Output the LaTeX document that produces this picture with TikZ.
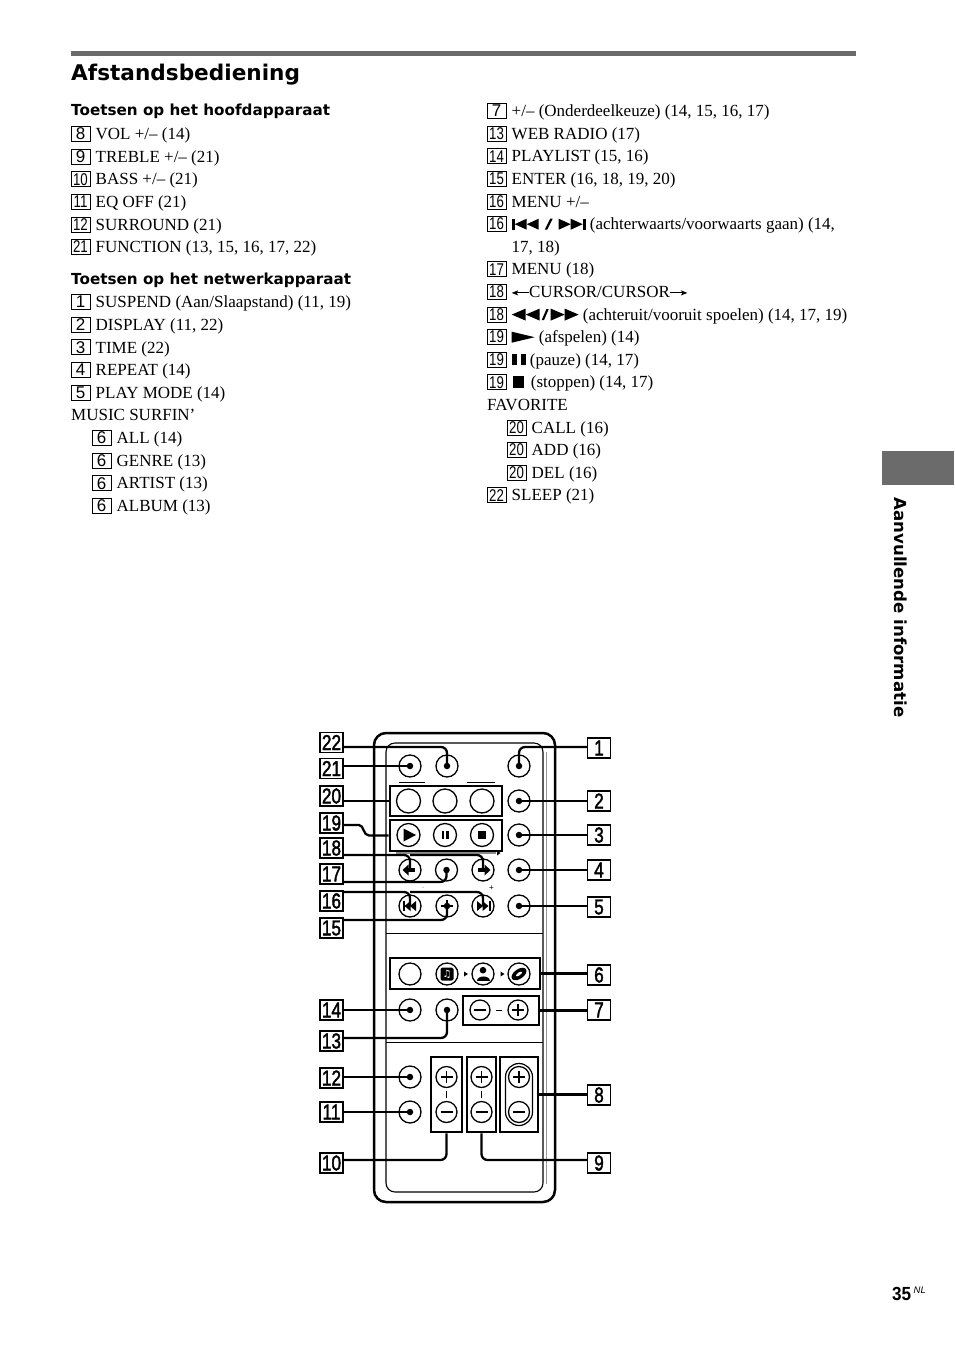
\documentclass[tikz,border=0pt]{standalone}
\usepackage{fontspec}
\setmainfont{Liberation Serif}
\setsansfont{Liberation Sans}
\newfontfamily\hfont{DejaVu Sans}
\newfontfamily\lblfont[FakeBold=2]{Liberation Sans}
\usepackage{graphicx}
\definecolor{rulegray}{gray}{0.42}
\newcommand\tw[1]{\scalebox{0.78}[1]{#1}}
\newcommand\sq[1]{\scalebox{0.8}[1]{#1}}
\newcommand\itm[5]{%
  \node[numbox] (#1b) at ({#2+9.5},{#3}) {#4};
  \node[body] (#1t) at ({#2+24.5},{#3+5.7}) {#5};}
\newcommand\icPN{\tikz[x=1pt,y=1pt,baseline=0pt]{%
  \fill (0,0) rectangle (3,11);
  \fill (3,5.5) -- (15,11) -- (15,0) -- cycle;
  \fill (15,5.5) -- (27,11) -- (27,0) -- cycle;
  \fill (33,0) -- (35.5,0) -- (41,11) -- (38.5,11) -- cycle;
  \fill (47,0) -- (59,5.5) -- (47,11) -- cycle;
  \fill (59,0) -- (71,5.5) -- (59,11) -- cycle;
  \fill (71,0) rectangle (74,11);}}
\newcommand\icRF{\tikz[x=1pt,y=1pt,baseline=0pt]{%
  \fill (0,5.5) -- (14,11.5) -- (14,-0.5) -- cycle;
  \fill (14,5.5) -- (28,11.5) -- (28,-0.5) -- cycle;
  \fill (30,0) -- (32.3,0) -- (37,11) -- (34.7,11) -- cycle;
  \fill (39,-0.5) -- (53,5.5) -- (39,11.5) -- cycle;
  \fill (53,-0.5) -- (67,5.5) -- (53,11.5) -- cycle;}}
\newcommand\icPlay{\tikz[x=1pt,y=1pt,baseline=0pt]{\fill (0,0) -- (23,5.5) -- (0,11) -- cycle;}}
\newcommand\icPause{\tikz[x=1pt,y=1pt,baseline=0pt]{\fill (1,0) rectangle (6,11); \fill (10,0) rectangle (15,11);}}
\newcommand\icStop{\tikz[x=1pt,y=1pt,baseline=0pt]{\fill (1,0) rectangle (12.5,11.5); \path (0,0) -- (15,0);}}
\newcommand\icLarr{\tikz[x=1pt,y=1pt,baseline=0pt]{\draw[line width=0.9pt] (3,4.6) -- (17,4.6); \fill (0,4.6) -- (6.5,7.2) -- (5,4.6) -- (6.5,2) -- cycle;}}
\newcommand\icRarr{\tikz[x=1pt,y=1pt,baseline=0pt]{\draw[line width=0.9pt] (0,4.6) -- (14,4.6); \fill (17,4.6) -- (10.5,7.2) -- (12,4.6) -- (10.5,2) -- cycle;}}
\newcommand\pmminus[1]{\draw[pm] ([xshift=-6pt]#1.center) -- ([xshift=6pt]#1.center);}
\newcommand\pmplus[1]{\pmminus{#1}\draw[pm] ([yshift=-6pt]#1.center) -- ([yshift=6pt]#1.center);}
\begin{document}
\begin{tikzpicture}[x=1pt,y=-1pt,
  body/.style={font=\fontsize{17}{20}\selectfont, inner sep=0, anchor=base west},
  numbox/.style={draw, line width=0.8pt, minimum width=19pt, minimum height=15pt, inner sep=0, font=\sffamily\fontsize{17}{17}\selectfont},
  head/.style={font=\hfont\bfseries\fontsize{15.2}{18}\selectfont, inner sep=0, anchor=base west},
  lbl/.style={draw, line width=1.2pt, minimum width=23pt, minimum height=20pt, inner sep=0, font=\lblfont\fontsize{21.5}{22}\selectfont},
  btn/.style={draw, circle, line width=1.3pt, minimum size=22pt, inner sep=0},
  grp/.style={draw, line width=2.8pt, inner sep=0},
  conn/.style={line width=2.3pt, rounded corners=6pt},
  dotc/.style={fill, circle, inner sep=0, minimum size=6.5pt},
  pm/.style={line width=1.2pt}]
\useasboundingbox (0,0) rectangle (954,1352);
\fill[white] (0,0) rectangle (954,1352);

% ---------- header ----------
\fill[rulegray] (71,51) rectangle (856,55.5);
\node[anchor=base west, inner sep=0, font=\hfont\bfseries\fontsize{21.6}{24}\selectfont] (title) at (71,80) {Afstandsbediening};
\node[head] (h1) at (71,115.5) {Toetsen op het hoofdapparaat};
\itm{a1}{71}{134}{8}{VOL +/– (14)}
\itm{a2}{71}{156.6}{9}{TREBLE +/– (21)}
\itm{a3}{71}{179.2}{\tw{10}}{BASS +/– (21)}
\itm{a4}{71}{201.8}{\tw{11}}{EQ OFF (21)}
\itm{a5}{71}{224.4}{\tw{12}}{SURROUND (21)}
\itm{a6}{71}{247}{\tw{21}}{FUNCTION (13, 15, 16, 17, 22)}
\node[head] (h2) at (71,284.5) {Toetsen op het netwerkapparaat};
\itm{n1}{71}{302}{1}{SUSPEND (Aan/Slaapstand) (11, 19)}
\itm{n2}{71}{324.65}{2}{DISPLAY (11, 22)}
\itm{n3}{71}{347.3}{3}{TIME (22)}
\itm{n4}{71}{369.95}{4}{REPEAT (14)}
\itm{n5}{71}{392.6}{5}{PLAY MODE (14)}
\node[body] (ms) at (71,420.95) {MUSIC SURFIN’};
\itm{n6}{92}{437.9}{6}{ALL (14)}
\itm{n7}{92}{460.55}{6}{GENRE (13)}
\itm{n8}{92}{483.2}{6}{ARTIST (13)}
\itm{n9}{92}{505.85}{6}{ALBUM (13)}

\itm{r1}{487}{111}{7}{+/– (Onderdeelkeuze) (14, 15, 16, 17)}
\itm{r2}{487}{133.6}{\tw{13}}{WEB RADIO (17)}
\itm{r3}{487}{156.2}{\tw{14}}{PLAYLIST (15, 16)}
\itm{r4}{487}{178.8}{\tw{15}}{ENTER (16, 18, 19, 20)}
\itm{r5}{487}{201.4}{\tw{16}}{MENU +/–}
\itm{r6}{487}{224}{\tw{16}}{\icPN\ (achterwaarts/voorwaarts gaan) (14,}
\node[body] (r7t) at (511.5,252.3) {17, 18)};
\itm{r8}{487}{269.2}{\tw{17}}{MENU (18)}
\itm{r9}{487}{291.8}{\tw{18}}{\icLarr CURSOR/CURSOR\icRarr}
\itm{r10}{487}{314.4}{\tw{18}}{\icRF\ (achteruit/vooruit spoelen) (14, 17, 19)}
\itm{r11}{487}{337}{\tw{19}}{\icPlay\ (afspelen) (14)}
\itm{r12}{487}{359.6}{\tw{19}}{\icPause\ (pauze) (14, 17)}
\itm{r13}{487}{382.2}{\tw{19}}{\icStop\ (stoppen) (14, 17)}
\node[body] (fav) at (487,410.5) {FAVORITE};
\itm{r15}{507}{427.4}{\tw{20}}{CALL (16)}
\itm{r16}{507}{450}{\tw{20}}{ADD (16)}
\itm{r17}{507}{472.6}{\tw{20}}{DEL (16)}
\itm{r18}{487}{495.2}{\tw{22}}{SLEEP (21)}

% side tab
\fill[rulegray] (882,451) rectangle (954,485);
\node[rotate=-90, inner sep=0, font=\hfont\bfseries\fontsize{16.6}{18}\selectfont] (tab) at (901,607.5) {Aanvullende informatie};

% page number
\node[anchor=base west, inner sep=0, font=\sffamily\bfseries\fontsize{19}{19}\selectfont] (pg) at (892,1300) {\scalebox{0.9}[1]{35}};
\node[anchor=base west, inner sep=0, font=\sffamily\itshape\fontsize{9.5}{10}\selectfont] (pgnl) at (913.5,1293) {NL};

% ---------- remote body ----------
\draw[line width=2.5pt, rounded corners=12pt] (374,733) rectangle (555,1202);
\draw[line width=1.1pt, rounded corners=9pt] (386,743) rectangle (543,1192);
\draw[line width=0.6pt, black!40] (546,752) -- (546,1184);
\draw[line width=1pt] (386,933) -- (543,933);
\draw[line width=1pt] (386,1042) -- (543,1042);

% group boxes
\node[grp, minimum width=112pt, minimum height=30pt] (g20) at (446,801) {};
\node[grp, minimum width=112pt, minimum height=31pt] (g19) at (446,835.5) {};
\node[grp, minimum width=150pt, minimum height=31pt] (g6) at (465,973.5) {};
\node[grp, minimum width=76pt, minimum height=29pt] (g7) at (501,1010.5) {};
\node[grp, minimum width=31pt, minimum height=75pt] (g10) at (446.5,1094.5) {};
\node[grp, minimum width=29pt, minimum height=75pt] (g9) at (481.5,1094.5) {};
\node[grp, minimum width=38pt, minimum height=75pt] (g8) at (519,1094.5) {};

% bars above favourite buttons, shift bar under transport buttons
\draw[line width=1.6pt] (399,782.5) -- (425,782.5);
\draw[line width=1.6pt] (467,782.5) -- (495,782.5);
\draw[line width=2pt, black!45] (396,853) -- (496,853);
\fill (497,850.5) -- (500.5,853) -- (497,855.5) -- cycle;
\node[inner sep=0, font=\sffamily\fontsize{8}{8}\selectfont] (plusmk) at (491.5,888.5) {+};
\node[inner sep=0, font=\sffamily\fontsize{6}{6}\selectfont, black!50] (minmk) at (423,889) {-};

% buttons
\node[btn] (b21) at (410,766) {};
\node[btn] (b22) at (447,766) {};
\node[btn] (b1) at (519,766) {};
\node[btn, minimum size=24pt] (f1) at (408.5,801) {};
\node[btn, minimum size=24pt] (f2) at (445,801) {};
\node[btn, minimum size=24pt] (f3) at (482,801) {};
\node[btn] (b2) at (519,801) {};
\node[btn, minimum size=23pt] (p1) at (408.5,835) {};
\node[btn, minimum size=23pt] (p2) at (445,835) {};
\node[btn, minimum size=23pt] (p3) at (482,835) {};
\node[btn] (b3) at (519,835) {};
\node[btn] (b18l) at (410,870) {};
\node[btn] (b17) at (446.5,870) {};
\node[btn] (b18r) at (483,870) {};
\node[btn] (b4) at (519,870) {};
\node[btn] (b16l) at (410,906) {};
\node[btn] (b15) at (447,906) {};
\node[btn] (b16r) at (483,906) {};
\node[btn] (b5) at (519,906) {};
\node[btn] (m1) at (410,974) {};
\node[btn] (m2) at (447,974) {};
\node[btn] (m3) at (483,974) {};
\node[btn] (m4) at (519,974) {};
\node[btn] (b14) at (410,1010) {};
\node[btn] (b13) at (447,1010) {};
\node[btn, minimum size=20pt] (s1) at (480,1010) {};
\node[btn, minimum size=20pt] (s2) at (518,1010) {};
\node[btn] (b12) at (410,1077) {};
\node[btn] (b11) at (410,1112) {};
\node[btn, minimum size=21pt] (t10p) at (446.5,1077) {};
\node[btn, minimum size=21pt] (t10m) at (446.5,1112) {};
\node[btn, minimum size=21pt] (t9p) at (481.5,1077) {};
\node[btn, minimum size=21pt] (t9m) at (481.5,1112) {};
\node[btn, minimum size=21pt] (v8p) at (519,1077) {};
\node[btn, minimum size=21pt] (v8m) at (519,1112) {};
\draw[line width=1.2pt, rounded corners=13.5pt] (505.5,1063.5) rectangle (532.5,1125.5);

% labels
\node[lbl] (l22) at (331.5,742.5) {\sq{22}};
\node[lbl] (l21) at (331.5,768.5) {\sq{21}};
\node[lbl] (l20) at (331.5,796) {\sq{20}};
\node[lbl] (l19) at (331.5,823) {\sq{19}};
\node[lbl] (l18) at (331.5,848) {\sq{18}};
\node[lbl] (l17) at (331.5,874) {\sq{17}};
\node[lbl] (l16) at (331.5,901) {\sq{16}};
\node[lbl] (l15) at (331.5,928) {\sq{15}};
\node[lbl] (l14) at (331.5,1010) {\sq{14}};
\node[lbl] (l13) at (331.5,1041) {\sq{13}};
\node[lbl] (l12) at (331.5,1078) {\sq{12}};
\node[lbl] (l11) at (331.5,1112) {\sq{11}};
\node[lbl] (l10) at (331.5,1163) {\sq{10}};
\node[lbl] (l1) at (599,748) {\sq{1}};
\node[lbl] (l2) at (599,801) {\sq{2}};
\node[lbl] (l3) at (599,835) {\sq{3}};
\node[lbl] (l4) at (599,870) {\sq{4}};
\node[lbl] (l5) at (599,907) {\sq{5}};
\node[lbl] (l6) at (599,975) {\sq{6}};
\node[lbl] (l7) at (599,1010) {\sq{7}};
\node[lbl] (l8) at (599,1095) {\sq{8}};
\node[lbl] (l9) at (599,1163) {\sq{9}};

% connectors
\draw[conn] (l22.east |- 0,747) -| (b22.center);
\draw[conn] (l21.east |- b21) -- (b21.center);
\draw[conn] (l20.east |- g20) -- (g20.west);
\draw[conn] (l19.east |- 0,825) -- (353,825) .. controls (364,825) and (363,835.5) .. (375,835.5) -- (g19.west);
\draw[conn] (l18.east |- 0,855) -| (b18l.center);
\draw[conn] (b18l.center |- 0,855) -| (b18r.center);
\draw[conn] (l17.east |- 0,882) -| (b17.center);
\draw[conn] (l16.east |- 0,892) -| (b16l.center);
\draw[conn] (b16l.center |- 0,892) -| (b16r.center);
\draw[conn] (l15.east |- 0,920) -| (b15.center);
\draw[conn] (l14.east) -- (b14.center);
\draw[conn] (l13.east |- 0,1038) -| (b13.center);
\draw[conn] (l12.east |- b12) -- (b12.center);
\draw[conn] (l11.east) -- (b11.center);
\draw[conn] (g10.south) |- (l10.east |- 0,1160);
\draw[conn] (l1.west |- 0,747) -| (b1.center);
\draw[conn] (b2.center) -- (l2.west);
\draw[conn] (b3.center) -- (l3.west);
\draw[conn] (b4.center) -- (l4.west);
\draw[conn] (b5.center) -- (l5.west |- b5);
\draw[conn] (g6.east) -- (l6.west |- g6.east);
\draw[conn] (g7.east) -- (l7.west |- g7.east);
\draw[conn] (g8.east) -- (l8.west |- g8.east);
\draw[conn] (g9.south) |- (l9.west |- 0,1160);

% dots
\foreach \b in {b22,b21,b1,b2,b3,b4,b5,b17,b15,b14,b13,b12,b11}
  \node[dotc] (d\b) at (\b) {};

% icons
\begin{scope}[shift={(p1)}] \fill (-5,-6.5) -- (7.5,0) -- (-5,6.5) -- cycle; \end{scope}
\begin{scope}[shift={(p2)}] \fill (-3.5,-4) rectangle (-1,4); \fill (1,-4) rectangle (3.5,4); \end{scope}
\begin{scope}[shift={(p3)}] \fill (-4,-4) rectangle (4,4); \end{scope}
\begin{scope}[shift={(b18l)}] \fill (-7.5,0) -- (-1.5,-5.5) -- (-1.5,5.5) -- cycle; \fill (-2,-2.2) rectangle (5,2.2); \end{scope}
\begin{scope}[shift={(b18r)}] \fill (7.5,0) -- (1.5,-5.5) -- (1.5,5.5) -- cycle; \fill (2,-2.2) rectangle (-5,2.2); \end{scope}
\begin{scope}[shift={(b16l)}] \fill (-7.5,-5) rectangle (-5.5,5); \fill (-5.5,0) -- (0.5,-5) -- (0.5,5) -- cycle; \fill (0,0) -- (6,-5) -- (6,5) -- cycle; \end{scope}
\begin{scope}[shift={(b16r)}] \fill (7.5,-5) rectangle (5.5,5); \fill (5.5,0) -- (-0.5,-5) -- (-0.5,5) -- cycle; \fill (0,0) -- (-6,-5) -- (-6,5) -- cycle; \end{scope}
\begin{scope}[shift={(b15)}] \draw[line width=1.3pt] (-6,0) -- (6,0) (0,-6) -- (0,6); \end{scope}
\begin{scope}[shift={(m2)}] \fill[rounded corners=1.5pt] (-6.5,-6.5) rectangle (6.5,6.5); \end{scope}
\node[text=white, inner sep=0, font=\hfont\fontsize{10}{10}\selectfont] (m2n) at (m2) {♫};
\begin{scope}[shift={(m3)}] \fill (0,-3.8) circle (3.3); \fill (-6.5,6.5) .. controls (-6.5,0.5) and (6.5,0.5) .. (6.5,6.5) -- cycle; \end{scope}
\begin{scope}[shift={(m4)}] \fill[rotate=35] (0,0) ellipse (8.5 and 4.8); \fill[white, rotate=35] (0,0) ellipse (3.6 and 1.4); \end{scope}
\fill (464,971.5) -- (468,974) -- (464,976.5) -- cycle;
\fill (500.5,971.5) -- (504.5,974) -- (500.5,976.5) -- cycle;
\pmminus{s1}
\pmplus{s2}
\draw[line width=1pt] (495.5,1010) -- (501.5,1010);
\pmplus{t10p}
\pmminus{t10m}
\pmplus{t9p}
\pmminus{t9m}
\pmplus{v8p}
\pmminus{v8m}
\draw[line width=1pt] ([yshift=-2.5pt]t10p.south) -- ([yshift=2.5pt]t10m.north);
\draw[line width=1pt] ([yshift=-2.5pt]t9p.south) -- ([yshift=2.5pt]t9m.north);
\end{tikzpicture}
\end{document}
